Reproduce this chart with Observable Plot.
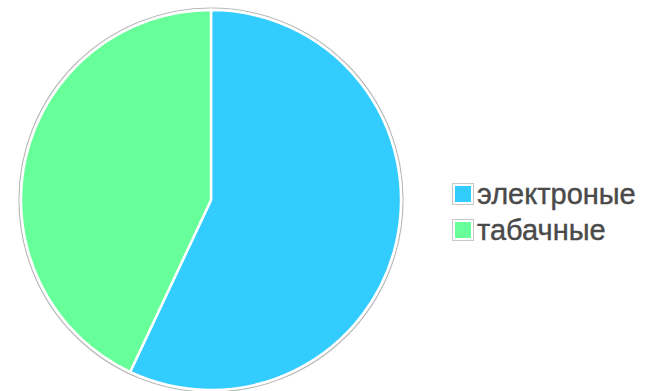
<!DOCTYPE html>
<html><head><meta charset="utf-8">
<script src="https://cdn.jsdelivr.net/npm/d3@7"></script>
<script src="https://cdn.jsdelivr.net/npm/@observablehq/plot@0.6"></script>
<style>body{margin:0;background:#fff}</style>
</head><body><div id="chart"></div>
<script>
const categories = ["электроные", "табачные"];
const values = [57, 43];
const colors = ["#33CCFF", "#66FF99"];

const data = categories.map((c, i) => ({category: c, value: values[i]}));
const color = Plot.scale({color: {domain: categories, range: colors}});

const cx = 211, cy = 200, r = 190;
const pie = d3.pie().value(d => d.value).sort(null);
const arc = d3.arc().innerRadius(0).outerRadius(r);

const chart = Plot.plot({
  width: 658, height: 391,
  margin: 0,
  style: {background: "#fff"},
  marks: [
    (index, scales, values_, dims, ctx) => {
      const g = d3.create("svg:g");
      g.append("circle").attr("cx", cx).attr("cy", cy).attr("r", r + 2)
        .attr("fill", "none").attr("stroke", "#b8b8b8").attr("stroke-width", 1.2);
      g.append("g").attr("transform", `translate(${cx},${cy})`)
        .selectAll("path").data(pie(data)).join("path")
        .attr("d", arc)
        .attr("fill", d => color.apply(d.data.category))
        .attr("stroke", "#fff").attr("stroke-width", 2.5);
      const lg = g.append("g").attr("transform", "translate(452,183)");
      categories.forEach((c, i) => {
        const row = lg.append("g").attr("transform", `translate(0,${i * 36})`);
        row.append("rect").attr("x", 0.5).attr("y", 0.5).attr("width", 21).attr("height", 21)
          .attr("fill", "#fff").attr("stroke", "#c8c8c8");
        row.append("rect").attr("x", 3).attr("y", 3).attr("width", 16).attr("height", 16)
          .attr("fill", color.apply(c));
        row.append("text").attr("x", 25).attr("y", 21)
          .attr("text-anchor", "start")
          .attr("font-family", "Liberation Sans, Arial, sans-serif")
          .attr("font-size", 29).attr("fill", "#4a4a4a")
          .attr("stroke", "#4a4a4a").attr("stroke-width", 0.4).text(c);
      });
      return g.node();
    }
  ]
});
document.getElementById("chart").append(chart);
</script>
</body></html>
